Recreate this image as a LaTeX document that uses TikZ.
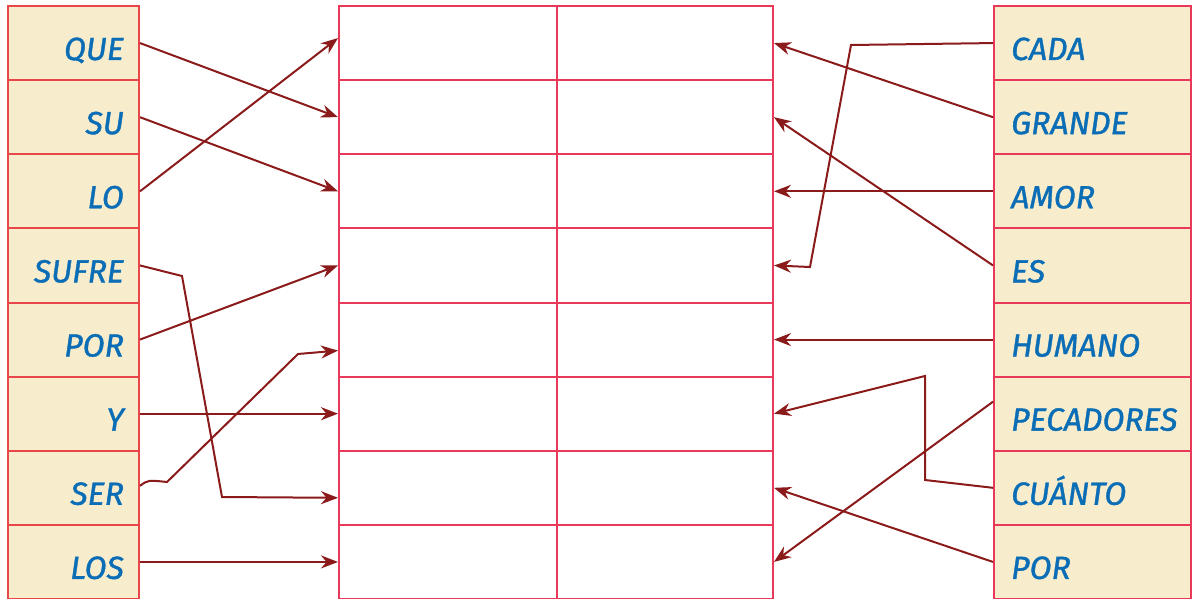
\documentclass[tikz,border=0pt]{standalone}
\usepackage{fontspec}
\setmainfont{Fira Sans}[ItalicFeatures={FakeBold=1.2}]
\usetikzlibrary{arrows.meta}
\definecolor{cellfill}{HTML}{F7EDCD}
\definecolor{cellline}{HTML}{E8395A}
\definecolor{leftline}{HTML}{E8474A}
\definecolor{arrowc}{HTML}{8B1A1A}
\definecolor{wordc}{HTML}{0A6DB5}
\begin{document}
\begin{tikzpicture}[x=1pt,y=-1pt,
  wordbox/.style={draw=cellline, fill=cellfill, line width=2pt, minimum height=74.125pt, inner sep=0pt, anchor=north west},
  gridcell/.style={draw=cellline, line width=2pt, minimum height=74.125pt, inner sep=0pt, anchor=north west},
  word/.style={font=\itshape\fontsize{32}{32}\selectfont, text=wordc, inner sep=0pt},
  conn/.style={draw=arrowc, line width=2pt, -{Stealth[length=17pt,width=13pt]}}]
\useasboundingbox (0,0) rectangle (1197,599);
\foreach \i in {1,...,8}{
  \node[wordbox, draw=leftline, minimum width=131pt] (L\i) at (7,{5+(\i-1)*74.125}) {};
  \node[gridcell, minimum width=218pt] (A\i) at (338,{5+(\i-1)*74.125}) {};
  \node[gridcell, minimum width=216pt] (B\i) at (556,{5+(\i-1)*74.125}) {};
  \node[wordbox, minimum width=197pt] (R\i) at (993,{5+(\i-1)*74.125}) {};
}
\foreach \i/\w in {1/QUE,2/SU,3/LO,4/SUFRE,5/POR,6/Y,7/SER,8/LOS}{
  \node[word, anchor=base east] (LW\i) at (124,{60+(\i-1)*74.125}) {\w};
}
\foreach \i/\w in {1/CADA,2/GRANDE,3/AMOR,4/ES,5/HUMANO,6/PECADORES,7/CUÁNTO,8/POR}{
  \node[word, anchor=base west] (RW\i) at (1011,{60+(\i-1)*74.125}) {\w};
}
% left connectors
\draw[conn] (L1.east) -- (A2.west);
\draw[conn] (L2.east) -- (A3.west);
\draw[conn] (L3.east) -- ([yshift=5pt]A1.west);
\draw[conn] (L4.east) -- (182,276) -- (222,497) -- ([yshift=-10pt]A7.west);
\draw[conn] (L5.east) -- (A4.west);
\draw[conn] (L6.east) -- (A6.west);
\draw[conn] ([yshift=2pt]L7.east) .. controls (148,480) .. (167,482) -- (298,354) -- ([yshift=-11pt]A5.west);
\draw[conn] (L8.east) -- (A8.west);
% right connectors
\draw[conn] (R1.west) -- (851,45) -- (810,267) -- (B4.east);
\draw[conn] (R2.west) -- (B1.east);
\draw[conn] (R3.west) -- (B3.east);
\draw[conn] (R4.west) -- (B2.east);
\draw[conn] (R5.west) -- (B5.east);
\draw[conn] ([yshift=12pt]R6.west) -- (B8.east);
\draw[conn] (R7.west) -- (925,480) -- (925,376) -- (B6.east);
\draw[conn] (R8.west) -- (B7.east);
\end{tikzpicture}
\end{document}
